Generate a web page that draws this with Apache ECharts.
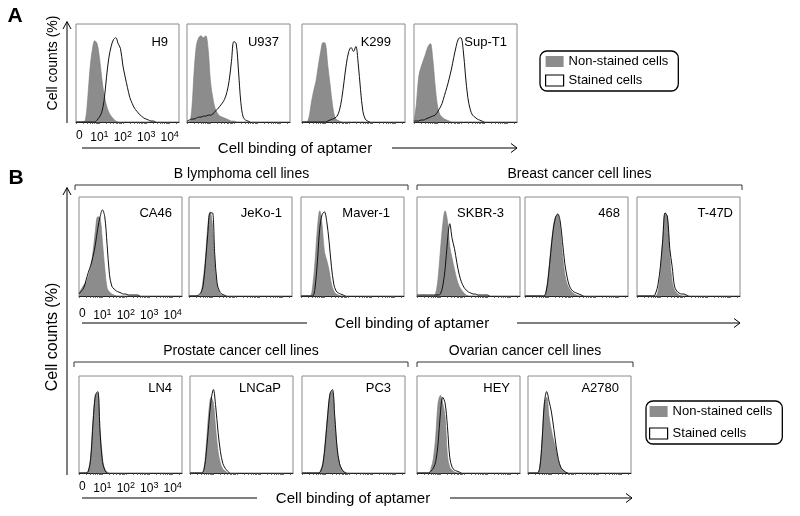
<!DOCTYPE html>
<html><head><meta charset="utf-8">
<script src="https://cdn.jsdelivr.net/npm/echarts@6/dist/echarts.min.js"></script>
<style>html,body{margin:0;padding:0;background:#fff}#c{width:800px;height:516px}</style>
</head><body><div id="c"></div><script>
// ---------- DATA ----------
// histogram bins on the log fluorescence axis (decades above 10^0), step 0.1
const binX = [0,0.1,0.2,0.3,0.4,0.5,0.6,0.7,0.8,0.9,1,1.1,1.2,1.3,1.4,1.5,1.6,1.7,1.8,1.9,2,2.1,2.2,2.3,2.4,2.5,2.6,2.7,2.8,2.9,3,3.1,3.2,3.3,3.4,3.5,3.6,3.7,3.8,3.9,4,4.1,4.2,4.3,4.4];
const tickDecades = [0,1,2,3,4];
const tickLabels = ['0','10^1','10^2','10^3','10^4'];

// Panel A
const cellLinesA = ['H9','U937','K299','Sup-T1'];
const h9NonStained    = [0,0,0,0,2,24,55,74,83,80,66,45,28,17,10,6,3,1,0];
const h9Stained       = [0,0,0,0,0,0,0,0,0,2,5,10,22,45,65,77,84,86,80,75,58,46,35,25,19,14,11,8,6,4,3,2,1,1,0];
const u937NonStained  = [0,0,12,50,78,86,88,86,88,75,42,25,14,9,6,5,4,3,2,1,1,0];
const u937Stained     = [1,2,3,3,4,5,5,6,6,7,7,8,11,13,16,19,23,30,42,62,82,80,52,20,5,2,1,0];
const k299NonStained  = [0,0,0,5,20,32,42,58,72,81,80,58,38,18,5,2,1,0];
const k299Stained     = [0,0,0,0,0,0,0,0,0,0,0,1,2,3,4,6,12,24,42,60,72,76,72,77,60,33,11,3,1,0];
const supT1NonStained = [0,18,46,56,63,70,77,80,65,38,17,8,5,3,2,1,0];
const supT1Stained    = [1,1,1,2,2,3,4,5,6,7,10,14,19,27,35,44,54,66,77,85,86,74,47,25,13,7,5,3,2,1,0];

// Panel B, row 1
const groupB1 = ['B lymphoma cell lines','Breast cancer cell lines'];
const cellLinesB1 = ['CA46','JeKo-1','Maver-1','SKBR-3','468','T-47D'];
const ca46NonStained   = [3,7,11,14,20,29,45,66,80,79,55,28,8,4,2,1,0];
const ca46Stained      = [2,5,8,16,24,31,40,52,68,80,87,80,52,22,10,7,5,4,3,2,2,1,1,1,1,1,0];
const jeko1NonStained  = [0,0,0,0,0,2,16,38,70,85,72,33,10,3,1,0];
const jeko1Stained     = [0,0,0,0,1,3,10,33,62,84,84,42,13,5,2,1,0];
const maver1NonStained = [0,0,0,0,0,10,35,68,86,72,45,36,26,12,5,2,1,0];
const maver1Stained    = [0,0,0,0,0,0,8,35,68,82,85,75,55,30,12,5,3,2,1,0];
const skbr3NonStained  = [0,0,0,0,0,0,0,0,3,18,46,72,86,76,50,38,27,17,10,6,3,1,0];
const skbr3Stained     = [1,1,1,1,1,1,1,1,1,1,2,10,27,55,73,58,48,34,22,14,9,6,4,3,2,2,1,1,1,1,1,0];
const mda468NonStained = [0,0,0,0,0,0,0,0,0,5,23,47,68,80,82,70,42,22,12,7,4,2,1,0];
const mda468Stained    = [0,0,0,0,0,0,0,0,0,4,20,44,66,79,83,76,55,33,19,10,6,4,3,2,1,0];
const t47dNonStained   = [0,0,0,0,0,0,0,0,0,5,23,57,84,80,40,15,6,3,1,0];
const t47dStained      = [0,0,0,0,0,0,0,0,3,12,30,57,84,80,48,30,10,5,3,2,2,1,0];

// Panel B, row 2
const groupB2 = ['Prostate cancer cell lines','Ovarian cancer cell lines'];
const cellLinesB2 = ['LN4','LNCaP','PC3','HEY','A2780'];
const ln4NonStained    = [0,0,0,0,3,18,55,80,82,45,15,4,1,0];
const ln4Stained       = [0,0,0,0,2,15,52,80,84,42,12,3,0];
const lncapNonStained  = [0,0,0,0,0,0,5,30,62,78,72,45,22,10,4,2,0];
const lncapStained     = [0,0,0,0,0,0,4,22,50,75,86,68,42,22,10,5,2,0];
const pc3NonStained    = [0,0,0,0,0,0,0,0,3,12,35,62,82,84,55,25,10,4,1,0];
const pc3Stained       = [0,0,0,0,0,0,0,0,2,10,32,60,82,86,58,26,10,4,1,0];
const heyNonStained    = [0,0,0,0,0,0,5,15,38,72,80,72,58,18,6,3,1,0];
const heyStained       = [0,0,0,0,0,0,2,5,12,30,62,78,72,48,16,6,3,2,1,0];
const a2780NonStained  = [0,0,0,0,0,6,35,72,78,58,44,33,24,12,6,2,1,0];
const a2780Stained     = [0,0,0,0,0,5,32,72,84,74,63,46,28,14,6,3,1,0];

const legendNames = ['Non-stained cells','Stained cells'];
const axisTitleX = 'Cell binding of aptamer';
const axisTitleY = 'Cell counts (%)';

// ---------- LAYOUT ----------
const FONT = '"Liberation Sans", Arial, Helvetica, sans-serif';
const GRAY = '#8c8c8c';
const rows = [
  {names: cellLinesA, ns:[h9NonStained,u937NonStained,k299NonStained,supT1NonStained],
   st:[h9Stained,u937Stained,k299Stained,supT1Stained],
   top:24, height:98, width:103, lefts:[76,187,302,414], gaps:[11,11,14,10], labelDy:18, tickMargin:8},
  {names: cellLinesB1, ns:[ca46NonStained,jeko1NonStained,maver1NonStained,skbr3NonStained,mda468NonStained,t47dNonStained],
   st:[ca46Stained,jeko1Stained,maver1Stained,skbr3Stained,mda468Stained,t47dStained],
   top:197, height:99, width:103, lefts:[79,189,301,417,525,637], gaps:[10,10,14,16,8,7], labelDy:16, tickMargin:12},
  {names: cellLinesB2, ns:[ln4NonStained,lncapNonStained,pc3NonStained,heyNonStained,a2780NonStained],
   st:[ln4Stained,lncapStained,pc3Stained,heyStained,a2780Stained],
   top:376, height:97, width:103, lefts:[79,190,302,417,528], gaps:[10,12,14,10,12], labelDy:12, tickMargin:8}
];

const minorTicks = [];
for (let d = 0; d <= 4; d++) for (let k = 1; k <= 9; k++) {
  const v = d + Math.log10(k);
  if (v <= 4.4) minorTicks.push(+v.toFixed(4));
}

const grids = [], xAxes = [], yAxes = [], series = [], graphics = [];
const zip = arr => arr.map((v, i) => [binX[i], v]);

function txt(x, y, text, size, o) {
  o = o || {};
  return {type:'text', x, y, rotation: o.rot || 0, silent:true, z:10,
    style:{text, fontSize:size, fontFamily:FONT, fontWeight:o.bold?'bold':'normal', fill:'#000',
      align:o.align||'center', verticalAlign:'middle'}};
}
function pline(points, w) {
  return {type:'polyline', silent:true, z:10, shape:{points}, style:{stroke:'#000', lineWidth:w||1, fill:null}};
}

let gi = 0;
rows.forEach(row => {
  row.names.forEach((name, j) => {
    const left = row.lefts[j];
    grids.push({left, top:row.top, width:row.width, height:row.height, show:true,
      borderColor:'#8a8a8a', borderWidth:1, backgroundColor:'#fff', containLabel:false, outerBoundsMode:'none'});
    xAxes.push({type:'value', gridIndex:gi, min:0, max:4.4, interval:1,
      axisLine:{show:true, onZero:false, lineStyle:{color:'#222', width:1}},
      axisTick:{show:true, customValues:minorTicks, length:2, lineStyle:{color:'#444', width:0.8}},
      splitLine:{show:false},
      axisLabel:{show:j===0, customValues:tickDecades, margin:row.tickMargin, alignMinLabel:'left',
        formatter: v => {
          const lab = tickLabels[tickDecades.indexOf(Math.round(v))] || '';
          if (lab.indexOf('^') < 0) return '{m|' + lab + '}';
          const p = lab.split('^');
          return '{m|' + p[0] + '}{s|' + p[1] + '}';
        },
        rich:{m:{fontSize:12, fontFamily:FONT, color:'#000'}, s:{fontSize:9, fontFamily:FONT, color:'#000', padding:[0,0,7,0]}}}
    });
    yAxes.push({type:'value', gridIndex:gi, min:0, max:100, show:false});
    series.push({type:'line', name:legendNames[0], xAxisIndex:gi, yAxisIndex:gi, data:zip(row.ns[j]),
      symbol:'none', smooth:0.35, z:2, silent:true,
      lineStyle:{color:'#7a7a7a', width:0.6}, areaStyle:{color:GRAY, opacity:1}, itemStyle:{color:GRAY}});
    series.push({type:'line', name:legendNames[1], xAxisIndex:gi, yAxisIndex:gi, data:zip(row.st[j]),
      symbol:'none', smooth:0.35, z:3, silent:true,
      lineStyle:{color:'#111', width:1}, itemStyle:{color:'#fff'}});
    graphics.push(txt(left + row.width - row.gaps[j], row.top + row.labelDy, name, 13, {align:'right'}));
    gi++;
  });
});

// panel letters
graphics.push(txt(15, 16, 'A', 21, {bold:true}));
graphics.push(txt(16, 178, 'B', 21, {bold:true}));
// y axis arrows + titles
graphics.push(pline([[67,123],[67,22]]));
graphics.push(pline([[63,29],[67,21.5],[71,29]]));
graphics.push(txt(53, 63, axisTitleY, 14, {rot:Math.PI/2}));
graphics.push(pline([[67,475],[67,188]]));
graphics.push(pline([[63,195],[67,187.5],[71,195]]));
graphics.push(txt(53, 337, axisTitleY, 16, {rot:Math.PI/2}));
// x titles with arrows
function xTitle(cx, y, x0, x1, x2, x3) {
  graphics.push(pline([[x0,y],[x1,y]]));
  graphics.push(pline([[x2,y],[x3,y]]));
  graphics.push(pline([[x3-6,y-4.5],[x3,y],[x3-6,y+4.5]]));
  graphics.push(txt(cx, y + 1, axisTitleX, 15));
}
xTitle(295, 148, 82, 200, 392, 517);
xTitle(412, 323, 82, 307, 517, 740);
xTitle(353, 498, 82, 257, 450, 632);
// group brackets
function bracket(x0, x1, y, title) {
  graphics.push({type:'polyline', silent:true, shape:{points:[[x0,y+5],[x0,y],[x1,y],[x1,y+5]]},
    style:{stroke:'#333', lineWidth:1, fill:null}});
  graphics.push(txt((x0 + x1) / 2, y - 11, title, 14));
}
bracket(75, 408, 185, groupB1[0]);
bracket(417, 742, 185, groupB1[1]);
bracket(74, 408, 362, groupB2[0]);
bracket(417, 633, 362, groupB2[1]);

function legendCfg(left, top, gap, padLeft) {
  return {left, top, orient:'vertical', padding:[4,10,4,padLeft], itemGap:gap, itemWidth:18, itemHeight:11,
    borderColor:'#000', borderWidth:1.3, borderRadius:7, selectedMode:false, backgroundColor:'#fff',
    textStyle:{fontSize:13, color:'#000', fontFamily:FONT},
    data:[{name:legendNames[0], icon:'rect', itemStyle:{color:GRAY, borderWidth:0}},
          {name:legendNames[1], icon:'rect', itemStyle:{color:'#fff', borderColor:'#000', borderWidth:1.2}}]};
}

const chart = echarts.init(document.getElementById('c'), null, {renderer:'canvas'});
chart.setOption({
  animation:false,
  backgroundColor:'#fff',
  textStyle:{fontFamily:FONT},
  grid:grids, xAxis:xAxes, yAxis:yAxes, series,
  legend:[legendCfg(540, 51, 6, 5), legendCfg(646, 401, 9, 3)],
  graphic:graphics
});
</script></body></html>
